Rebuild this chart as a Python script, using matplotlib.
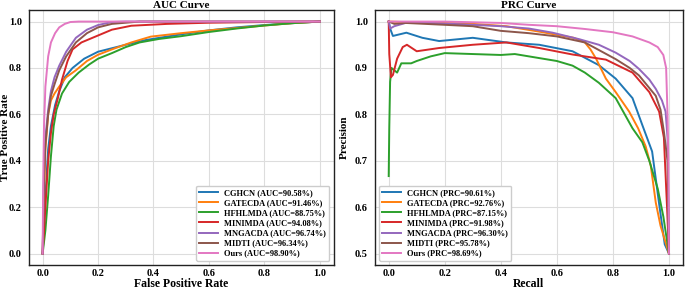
import numpy as np
import matplotlib
matplotlib.use("Agg")
import matplotlib.pyplot as plt

plt.rcParams['font.family'] = ['Liberation Serif', 'DejaVu Serif']
plt.rcParams['font.weight'] = 'bold'

models = ['CGHCN', 'GATECDA', 'HFHLMDA', 'MINIMDA', 'MNGACDA', 'MIDTI', 'Ours']
colors = ['#1f77b4', '#ff7f0e', '#2ca02c', '#d62728', '#9467bd', '#8c564b', '#e377c2']
auc_vals = ['90.58', '91.46', '88.75', '94.08', '96.74', '96.34', '98.90']
prc_vals = ['90.61', '92.76', '87.15', '91.98', '96.30', '95.78', '98.69']

# ROC curves (fpr, tpr)
fpr_cghcn = [0, 0.01, 0.02, 0.03, 0.045, 0.06, 0.08, 0.108, 0.15, 0.2, 0.3, 0.37, 0.5, 0.6, 0.7, 0.8, 0.9, 1.0]
tpr_cghcn = [0, 0.25, 0.45, 0.55, 0.64, 0.70, 0.76, 0.80, 0.84, 0.87, 0.90, 0.92, 0.945, 0.962, 0.975, 0.985, 0.993, 1.0]
fpr_gatecda = [0, 0.005, 0.01, 0.02, 0.03, 0.043, 0.06, 0.085, 0.12, 0.16, 0.2, 0.25, 0.32, 0.39, 0.5, 0.6, 0.7, 0.8, 0.9, 1.0]
tpr_gatecda = [0, 0.25, 0.45, 0.60, 0.66, 0.69, 0.72, 0.76, 0.79, 0.83, 0.857, 0.88, 0.91, 0.935, 0.95, 0.962, 0.972, 0.983, 0.993, 1.0]
fpr_hfhlmda = [0, 0.01, 0.02, 0.03, 0.04, 0.05, 0.07, 0.096, 0.13, 0.168, 0.2, 0.25, 0.3, 0.35, 0.42, 0.5, 0.6, 0.7, 0.8, 0.9, 1.0]
tpr_hfhlmda = [0, 0.10, 0.25, 0.42, 0.55, 0.62, 0.69, 0.74, 0.78, 0.815, 0.84, 0.864, 0.89, 0.91, 0.925, 0.937, 0.955, 0.97, 0.983, 0.993, 1.0]
fpr_minimda = [0, 0.01, 0.02, 0.03, 0.04, 0.055, 0.07, 0.09, 0.108, 0.14, 0.2, 0.25, 0.32, 0.45, 0.6, 0.8, 1.0]
tpr_minimda = [0, 0.20, 0.40, 0.52, 0.60, 0.67, 0.75, 0.83, 0.88, 0.91, 0.94, 0.965, 0.982, 0.99, 0.995, 0.998, 1.0]
fpr_mngacda = [0, 0.005, 0.01, 0.02, 0.03, 0.043, 0.06, 0.085, 0.12, 0.16, 0.2, 0.25, 0.3, 1.0]
tpr_mngacda = [0, 0.35, 0.50, 0.62, 0.70, 0.76, 0.81, 0.87, 0.93, 0.965, 0.985, 0.998, 1.0, 1.0]
fpr_midti = [0, 0.005, 0.01, 0.02, 0.03, 0.043, 0.06, 0.085, 0.12, 0.16, 0.2, 0.25, 0.35, 1.0]
tpr_midti = [0, 0.32, 0.47, 0.60, 0.68, 0.73, 0.79, 0.85, 0.91, 0.95, 0.975, 0.99, 1.0, 1.0]
fpr_ours = [0, 0.002, 0.005, 0.01, 0.02, 0.03, 0.045, 0.06, 0.08, 0.1, 0.13, 1.0]
tpr_ours = [0, 0.30, 0.55, 0.72, 0.85, 0.91, 0.95, 0.975, 0.99, 0.998, 1.0, 1.0]

# PR curves (recall, precision)
rec_cghcn = [0, 0.005, 0.015, 0.063, 0.12, 0.18, 0.3, 0.42, 0.537, 0.656, 0.75, 0.81, 0.87, 0.905, 0.94, 0.965, 0.985, 1.0]
pre_cghcn = [1.0, 0.985, 0.969, 0.976, 0.965, 0.958, 0.965, 0.955, 0.95, 0.936, 0.906, 0.877, 0.835, 0.777, 0.72, 0.607, 0.52, 0.5]
rec_gatecda = [0, 0.1, 0.2, 0.3, 0.42, 0.54, 0.66, 0.7, 0.72, 0.74, 0.775, 0.81, 0.858, 0.89, 0.917, 0.935, 0.953, 0.97, 0.982, 1.0]
pre_gatecda = [1.0, 0.998, 0.997, 0.995, 0.99, 0.978, 0.965, 0.955, 0.94, 0.92, 0.877, 0.848, 0.806, 0.77, 0.731, 0.69, 0.61, 0.56, 0.536, 0.5]
rec_hfhlmda = [0, 0.002, 0.005, 0.01, 0.03, 0.045, 0.08, 0.1, 0.15, 0.2, 0.3, 0.4, 0.45, 0.5, 0.6, 0.656, 0.7, 0.75, 0.81, 0.87, 0.905, 0.93, 0.96, 0.98, 1.0]
pre_hfhlmda = [0.667, 0.77, 0.87, 0.90, 0.89, 0.91, 0.91, 0.915, 0.925, 0.932, 0.93, 0.928, 0.93, 0.925, 0.915, 0.905, 0.89, 0.868, 0.835, 0.77, 0.74, 0.70, 0.64, 0.58, 0.5]
rec_minimda = [0, 0.002, 0.008, 0.015, 0.03, 0.05, 0.065, 0.1, 0.18, 0.3, 0.42, 0.537, 0.656, 0.775, 0.87, 0.93, 0.965, 0.982, 0.994, 1.0]
pre_minimda = [1.0, 0.93, 0.88, 0.885, 0.92, 0.945, 0.95, 0.936, 0.943, 0.95, 0.955, 0.943, 0.929, 0.918, 0.89, 0.848, 0.806, 0.75, 0.59, 0.5]
rec_mngacda = [0, 0.005, 0.02, 0.06, 0.15, 0.3, 0.4, 0.5, 0.585, 0.68, 0.75, 0.81, 0.86, 0.893, 0.93, 0.953, 0.975, 0.988, 0.995, 1.0]
pre_mngacda = [1.0, 0.985, 0.99, 0.997, 0.997, 0.993, 0.99, 0.985, 0.976, 0.962, 0.95, 0.933, 0.915, 0.898, 0.875, 0.855, 0.83, 0.806, 0.75, 0.5]
rec_midti = [0, 0.02, 0.06, 0.2, 0.3, 0.4, 0.5, 0.6, 0.7, 0.81, 0.86, 0.893, 0.953, 0.97, 0.982, 0.995, 1.0]
pre_midti = [1.0, 0.995, 0.997, 0.993, 0.99, 0.98, 0.975, 0.968, 0.955, 0.919, 0.9, 0.884, 0.84, 0.81, 0.763, 0.7, 0.5]
rec_ours = [0, 0.2, 0.4, 0.5, 0.6, 0.7, 0.8, 0.87, 0.93, 0.96, 0.98, 0.99, 0.995, 0.998, 1.0]
pre_ours = [1.0, 1.0, 0.997, 0.993, 0.99, 0.984, 0.977, 0.968, 0.955, 0.945, 0.928, 0.9, 0.8, 0.7, 0.5]

roc = [(fpr_cghcn, tpr_cghcn), (fpr_gatecda, tpr_gatecda), (fpr_hfhlmda, tpr_hfhlmda),
       (fpr_minimda, tpr_minimda), (fpr_mngacda, tpr_mngacda), (fpr_midti, tpr_midti),
       (fpr_ours, tpr_ours)]
prc = [(rec_cghcn, pre_cghcn), (rec_gatecda, pre_gatecda), (rec_hfhlmda, pre_hfhlmda),
       (rec_minimda, pre_minimda), (rec_mngacda, pre_mngacda), (rec_midti, pre_midti),
       (rec_ours, pre_ours)]

fig = plt.figure(figsize=(6.85, 2.93), dpi=100)
ax1 = fig.add_axes([0.042, 0.095, 0.445, 0.871])
ax2 = fig.add_axes([0.547, 0.095, 0.450, 0.871])

for i, (x, y) in enumerate(roc):
    ax1.plot(x, y, color=colors[i], lw=1.4, label=f'{models[i]} (AUC={auc_vals[i]}%)')
for i, (x, y) in enumerate(prc):
    ax2.plot(x, y, color=colors[i], lw=1.4, label=f'{models[i]} (PRC={prc_vals[i]}%)')

ax1.set_title('AUC Curve', fontsize=8, fontweight='bold', pad=1)
ax1.set_xlabel('False Positive Rate', fontsize=8.5, fontweight='bold', labelpad=0)
ax1.set_ylabel('True Positive Rate', fontsize=8, fontweight='bold')
ax1.yaxis.set_label_coords(-0.062, 0.5)
ax1.set_xticks(np.arange(0, 1.01, 0.2))
ax1.set_yticks(np.arange(0, 1.01, 0.2))
ax1.legend(loc='lower right', fontsize=6, handlelength=2.2, labelspacing=0.25,
           borderpad=0.4, framealpha=1, edgecolor='#cccccc')

ax2.set_title('PRC Curve', fontsize=8, fontweight='bold', pad=1)
ax2.set_xlabel('Recall', fontsize=8.5, fontweight='bold', labelpad=0)
ax2.set_ylabel('Precision', fontsize=8, fontweight='bold')
ax2.yaxis.set_label_coords(-0.085, 0.5)
ax2.set_xticks(np.arange(0, 1.01, 0.2))
ax2.set_yticks(np.arange(0.5, 1.01, 0.1))
ax2.legend(loc='lower left', fontsize=6, handlelength=2.2, labelspacing=0.25,
           borderpad=0.4, framealpha=1, edgecolor='#cccccc')

for ax in (ax1, ax2):
    ax.grid(True, color='#dddddd', lw=0.8)
    ax.set_axisbelow(True)
    ax.tick_params(axis='x', labelsize=7.5, length=0, pad=3)
    ax.tick_params(axis='y', labelsize=7.5, length=0, pad=5)
    for lab in ax.get_xticklabels() + ax.get_yticklabels():
        lab.set_fontweight('bold')
    for s in ax.spines.values():
        s.set_color('#222222')
        s.set_linewidth(1.0)

plt.savefig('out.png', dpi=100)
